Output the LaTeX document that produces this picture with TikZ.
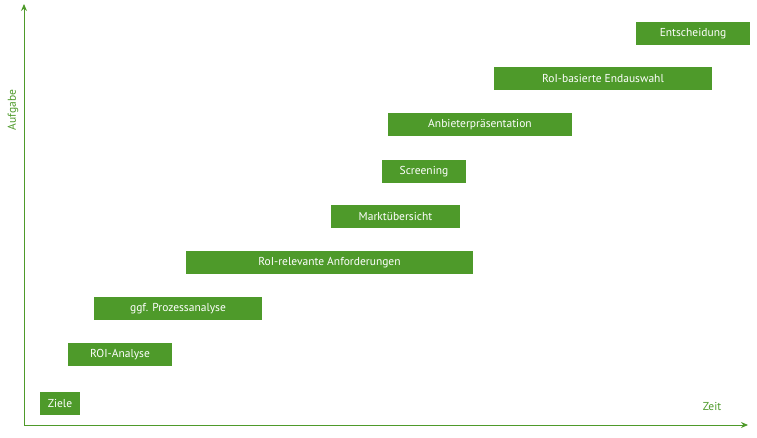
\documentclass[tikz,border=0pt]{standalone}
\usepackage{fontspec}
\setmainfont{PT Sans}
\usetikzlibrary{arrows.meta}
\definecolor{g}{HTML}{4E9A2A}
\begin{document}
\begin{tikzpicture}[x=1pt,y=-1pt,
 bar/.style={fill=g,text=white,font=\fontsize{11.5}{13}\selectfont,inner sep=0pt,anchor=center},
 ax/.style={draw=g,line width=1pt,-{Stealth[length=7pt,width=6pt]}}]
\useasboundingbox (0,0) rectangle (757,438);
\coordinate (o) at (24,425);
\coordinate (yt) at (24,4);
\coordinate (xt) at (748,425);
\draw[ax] (o) -- (yt);
\draw[ax] (o) -- (xt);
\node[text=g,rotate=90,font=\fontsize{11.5}{13}\selectfont] (aufg) at (13,110) {Aufgabe};
\node[text=g,font=\fontsize{11.5}{13}\selectfont] (zeit) at (712,406) {Zeit};
\foreach \n/\xa/\xb/\ya/\t in {
 b1/40/80/392/Ziele,
 b2/68/172/343/ROI-Analyse,
 b3/94/262/297/ggf. Prozessanalyse,
 b4/186/473/251/RoI-relevante Anforderungen,
 b5/331/460/205/Marktübersicht,
 b6/382/466/160/Screening,
 b7/388/572/113/Anbieterpräsentation,
 b8/494/712/67/RoI-basierte Endauswahl,
 b9/636/750/22/Entscheidung}
 {\fill[g] (\xa,\ya) rectangle (\xb,\ya+23);
  \node[bar] (\n) at ({(\xa+\xb)/2},\ya+11.5) {\t};}
\end{tikzpicture}
\end{document}
